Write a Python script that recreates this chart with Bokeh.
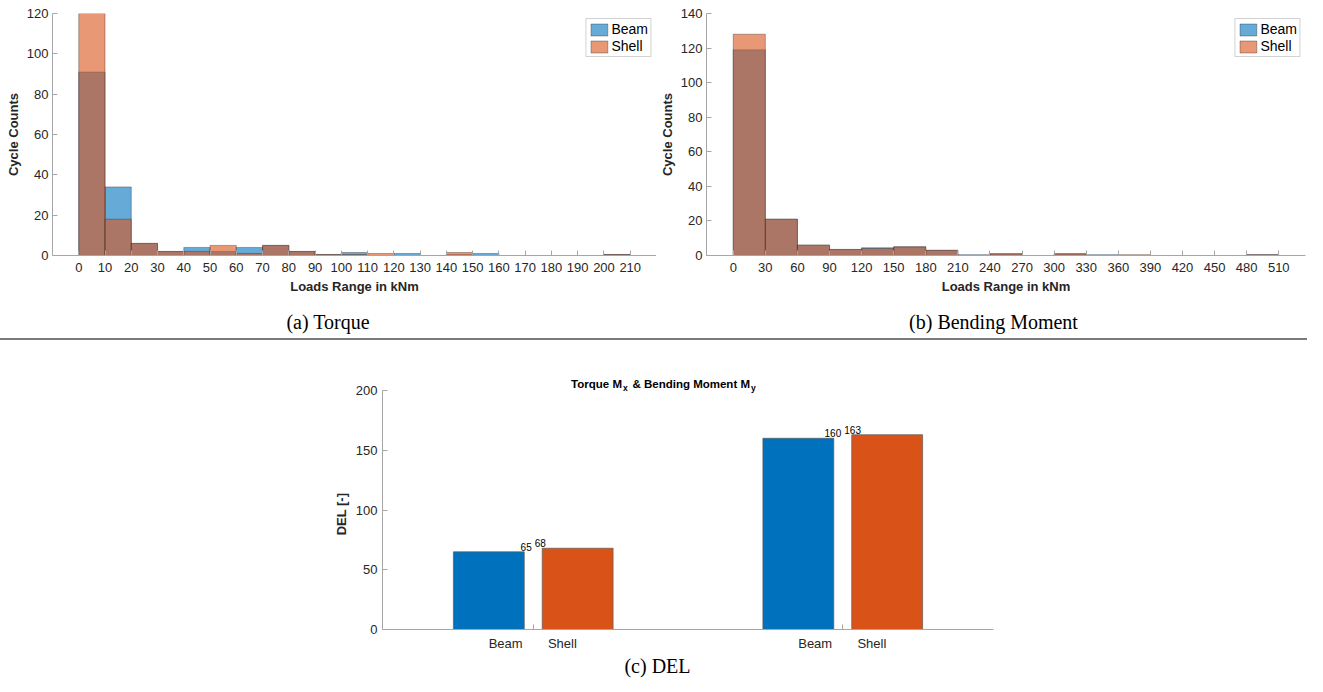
from bokeh.plotting import figure
from bokeh.models import Range1d, FixedTicker, Div, ColumnDataSource
from bokeh.layouts import column, row
from bokeh.embed import file_html
from bokeh.resources import INLINE
from bokeh.core.properties import value

# ---------------- data ----------------
series_names = ["Beam", "Shell"]

torque_bin_width = 10
torque_beam = [91, 34, 6, 2, 4, 2, 4, 5, 2, 0.5, 1.5, 0, 1, 0, 0.5, 1, 0, 0, 0, 0, 0.5]
torque_shell = [120, 18, 6, 2, 2, 5, 1, 5, 2, 0.5, 0.5, 1, 0, 0, 1.5, 0, 0, 0, 0, 0, 0.5]
torque_xticks = list(range(0, 211, 10))
torque_yticks = [0, 20, 40, 60, 80, 100, 120]

bending_bin_width = 30
bending_beam = [119, 21, 6, 3.5, 4.5, 5, 3, 0.5, 1, 0, 1, 0.5, 0, 0, 0, 0, 0.5]
bending_shell = [128, 21, 6, 3.5, 4, 5, 3, 0, 1, 0, 1, 0, 0.5, 0, 0, 0, 0.5]
bending_xticks = list(range(0, 511, 30))
bending_yticks = [0, 20, 40, 60, 80, 100, 120, 140]

del_groups = [1, 2]
del_beam = [65, 160]
del_shell = [68, 163]
del_yticks = [0, 50, 100, 150, 200]
del_title_main = ["Torque M", "& Bending Moment M"]
del_title_sub = ["x", "y"]

captions = ["(a) Torque", "(b) Bending Moment", "(c) DEL"]

# ---------------- style ----------------
FONT = "Liberation Sans"
SERIF = "Liberation Serif"
AX_COL = "#a6a6a6"
TXT_COL = "#262626"
BLUE = "#0072BD"
ORANGE = "#D95319"


def style_axes(p, xlab, ylab):
    for ax in (p.xaxis[0], p.yaxis[0]):
        ax.axis_line_color = AX_COL
        ax.major_tick_line_color = AX_COL
        ax.major_tick_in = 5
        ax.major_tick_out = 0
        ax.minor_tick_line_color = None
        ax.major_label_text_font = FONT
        ax.major_label_text_font_size = "13px"
        ax.major_label_text_color = TXT_COL
        ax.axis_label_text_font = FONT
        ax.axis_label_text_font_size = "13px"
        ax.axis_label_text_font_style = "bold"
        ax.axis_label_text_color = TXT_COL
    p.xaxis[0].axis_label = xlab
    p.yaxis[0].axis_label = ylab
    p.xaxis[0].major_label_standoff = 7
    p.xaxis[0].axis_label_standoff = 4
    p.yaxis[0].major_label_standoff = 4
    p.yaxis[0].axis_label_standoff = 3
    p.xgrid.grid_line_color = None
    p.ygrid.grid_line_color = None
    p.outline_line_color = None


def hist_fig(width, bl, br, bw, beam, shell, xr, ymax, xticks, yticks):
    p = figure(width=width, height=296, output_backend="svg", toolbar_location=None,
               x_range=Range1d(*xr), y_range=Range1d(0, ymax),
               min_border_left=bl, min_border_right=br, min_border_top=13, min_border_bottom=40)
    for vals, col, name in ((beam, BLUE, series_names[0]), (shell, ORANGE, series_names[1])):
        left = [i * bw for i, v in enumerate(vals) if v > 0]
        top = [v for v in vals if v > 0]
        src = ColumnDataSource(dict(left=left, right=[l + bw for l in left], top=top))
        p.quad(left="left", right="right", bottom=0, top="top", source=src,
               fill_color=col, fill_alpha=0.6, line_color="#262626", line_alpha=0.6,
               line_width=0.6, legend_label=name)
    style_axes(p, "Loads Range in kNm", "Cycle Counts")
    p.xaxis[0].ticker = FixedTicker(ticks=xticks)
    p.yaxis[0].ticker = FixedTicker(ticks=yticks)
    lg = p.legend[0]
    lg.location = "top_right"
    lg.margin = 5
    lg.padding = 2
    lg.spacing = 1
    lg.glyph_height = 15
    lg.glyph_width = 21
    lg.label_height = 16
    lg.label_standoff = 2
    lg.label_text_font = FONT
    lg.label_text_font_size = "14px"
    lg.label_text_color = "black"
    lg.border_line_color = AX_COL
    lg.border_line_width = 1
    return p


pa = hist_fig(656, 52, 0, torque_bin_width, torque_beam, torque_shell,
              (-10, 220), 120, torque_xticks, torque_yticks)
pb = hist_fig(651, 50, 2, bending_bin_width, bending_beam, bending_shell,
              (-25, 535), 140, bending_xticks, bending_yticks)

# ---------------- DEL bar chart ----------------
# frame is taller than the y axis (axis bounded to 0..200) so the title fits inside it
fig_h, frame_top_px, border_bot = 313, 22, 24
axis_top_px = 50
axis_bot_px = fig_h - border_bot
y_top = 200 * (axis_bot_px - frame_top_px) / (axis_bot_px - axis_top_px)
bar_w = 0.229
off = 0.1435
pc = figure(width=1307, height=fig_h, output_backend="svg", toolbar_location=None,
            x_range=Range1d(0.513, 2.487), y_range=Range1d(0, y_top),
            min_border_left=382, min_border_right=314, min_border_top=frame_top_px,
            min_border_bottom=border_bot)
pc.vbar(x=[g - off for g in del_groups], top=del_beam, width=bar_w,
        fill_color=BLUE, line_color="#5a5a5a", line_width=0.7)
pc.vbar(x=[g + off for g in del_groups], top=del_shell, width=bar_w,
        fill_color=ORANGE, line_color="#5a5a5a", line_width=0.7)
style_axes(pc, "", "DEL [-]" + "\u00a0" * 10)
pc.xaxis[0].axis_label = None
pc.yaxis[0].ticker = FixedTicker(ticks=del_yticks)
pc.yaxis[0].bounds = (0, 200)
pc.yaxis[0].major_label_standoff = 5
pc.yaxis[0].axis_label_standoff = 4
lab_pos = []
lab_txt = {}
for g in del_groups:
    for d, name in ((-0.089, series_names[0]), (0.094, series_names[1])):
        t = round(g + d, 3)
        lab_pos.append(t)
        lab_txt[t] = name
pc.xaxis[0].ticker = FixedTicker(ticks=lab_pos, minor_ticks=del_groups)
pc.xaxis[0].major_label_overrides = lab_txt
pc.xaxis[0].major_tick_line_color = None
pc.xaxis[0].minor_tick_line_color = AX_COL
pc.xaxis[0].minor_tick_in = 5
pc.xaxis[0].minor_tick_out = 0
pc.xaxis[0].major_label_standoff = 6

pc.text(x=[g - 0.005 for g in del_groups], y=del_beam, text=[str(v) for v in del_beam],
        text_align="right", text_baseline="bottom", y_offset=-1,
        text_font=value(FONT), text_font_size="10px", text_color="black")
pc.text(x=[g + 0.005 for g in del_groups], y=del_shell, text=[str(v) for v in del_shell],
        text_align="left", text_baseline="bottom", y_offset=-1,
        text_font=value(FONT), text_font_size="10px", text_color="black")

# title (with subscripts) drawn inside the extended frame, above y = 200
title_x = (del_groups[0] + del_groups[-1]) / 2
sub_anchor = [-66, 62]   # px offsets where each main part ends / its subscript starts
pc.text(x=[title_x] * 2, y=[200] * 2, text=del_title_main,
        x_offset=sub_anchor, y_offset=[-7, -7],
        text_font=value(FONT), text_font_style="bold", text_font_size="11.5px",
        text_color="black", text_align="right", text_baseline="alphabetic")
pc.text(x=[title_x] * 2, y=[200] * 2, text=del_title_sub,
        x_offset=[a + 1 for a in sub_anchor], y_offset=[-3, -3],
        text_font=value(FONT), text_font_style="bold", text_font_size="8.5px",
        text_color="black", text_align="left", text_baseline="alphabetic")


def cap(txt, w, h, pad, shift=0):
    return Div(text=f"<div style='width:{w}px;text-align:center;font-family:\"{SERIF}\";"
                    f"font-size:20px;color:black;padding-top:{pad}px;line-height:20px;"
                    f"position:relative;left:{shift}px'>{txt}</div>",
               width=w, height=h, margin=0)


cap_row = row(cap(captions[0], 656, 42, 16), cap(captions[1], 651, 42, 16, 12))
sep = Div(text="", width=1307, height=2, margin=0,
          styles={"background-color": "#7a7a7a"})
cap_c = cap(captions[2], 1307, 23, 3, 4)

layout = column(row(pa, pb), cap_row, sep, pc, cap_c)
open("out.html", "w").write(file_html(layout, INLINE))
